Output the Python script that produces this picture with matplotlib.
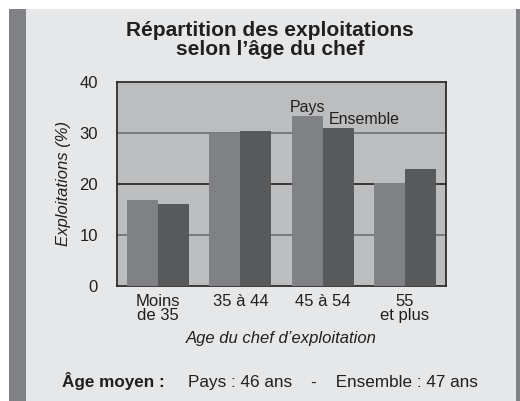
import matplotlib
matplotlib.use("Agg")
import matplotlib.pyplot as plt
from matplotlib.patches import Rectangle
import numpy as np

plt.rcParams['font.family'] = ['Liberation Sans', 'DejaVu Sans']

categories = ["Moins\nde 35", "35 à 44", "45 à 54", "55\net plus"]
pays = [16.9, 30.0, 33.2, 20.2]
ensemble = [16.0, 30.4, 30.9, 23.0]
yticks = [0, 10, 20, 30, 40]

W, H = 520, 401
fig = plt.figure(figsize=(W / 100, H / 100), dpi=100, facecolor="white")

def px_rect(x0, y0, x1, y1, color):
    fig.patches.append(Rectangle((x0 / W, 1 - y1 / H), (x1 - x0) / W, (y1 - y0) / H,
                                 transform=fig.transFigure, facecolor=color,
                                 edgecolor="none", zorder=-5))

px_rect(9, 9, 26, 401, "#808184")
px_rect(26, 9, 516, 401, "#e6e7e8")
px_rect(516, 9, 520, 401, "#808184")

ax = fig.add_axes([117.3 / W, (H - 286) / H, (445.7 - 117.3) / W, (286 - 81.7) / H])
ax.set_zorder(1)
ax.set_facecolor("#bcbdbf")
x = np.arange(len(categories))
bw = 0.378
ax.bar(x - bw / 2, pays, bw, color="#808184", zorder=3)
ax.bar(x + bw / 2, ensemble, bw, color="#58595b", zorder=3)
ax.set_xlim(-0.5, len(categories) - 0.5)
ax.set_ylim(0, 40)
ax.set_yticks(yticks)
ax.set_xticks(x)
ax.set_xticklabels(categories, fontsize=12, color="#231f20", linespacing=0.85)
ax.tick_params(axis="y", length=0, pad=14, labelsize=12, labelcolor="#231f20")
ax.tick_params(axis="x", length=0, pad=6)
for v, c in [(10, "#6d6e71"), (20, "#231f20"), (30, "#6d6e71")]:
    ax.axhline(v, color=c, lw=1.2, zorder=1)
for s in ax.spines.values():
    s.set_color("#231f20")
    s.set_linewidth(1.2)
ax.set_ylabel("Exploitations (%)", fontstyle="italic", fontsize=12, color="#231f20", labelpad=6)
ax.set_xlabel("Age du chef d’exploitation", fontstyle="italic", fontsize=12, color="#231f20", labelpad=6)

ax.text(2 - bw / 2, 34.1, "Pays", ha="center", va="baseline", fontsize=11.5, color="#231f20", zorder=4)
ax.text(2.505, 31.8, "Ensemble", ha="center", va="baseline", fontsize=11.5, color="#231f20", zorder=4)

fig.text(270 / W, 1 - 36 / H, "Répartition des exploitations",
         ha="center", va="baseline", fontsize=15, fontweight="bold", color="#231f20")
fig.text(270 / W, 1 - 55 / H, "selon l’âge du chef",
         ha="center", va="baseline", fontsize=15, fontweight="bold", color="#231f20")
fig.text(62 / W, 1 - 387 / H, "Âge moyen :", ha="left", va="baseline", fontsize=12.3,
         fontweight="bold", color="#231f20")
fig.text(188 / W, 1 - 387 / H, "Pays : 46 ans    -    Ensemble : 47 ans", ha="left",
         va="baseline", fontsize=12.3, color="#231f20")

fig.savefig("out.png", dpi=100, facecolor="white")
